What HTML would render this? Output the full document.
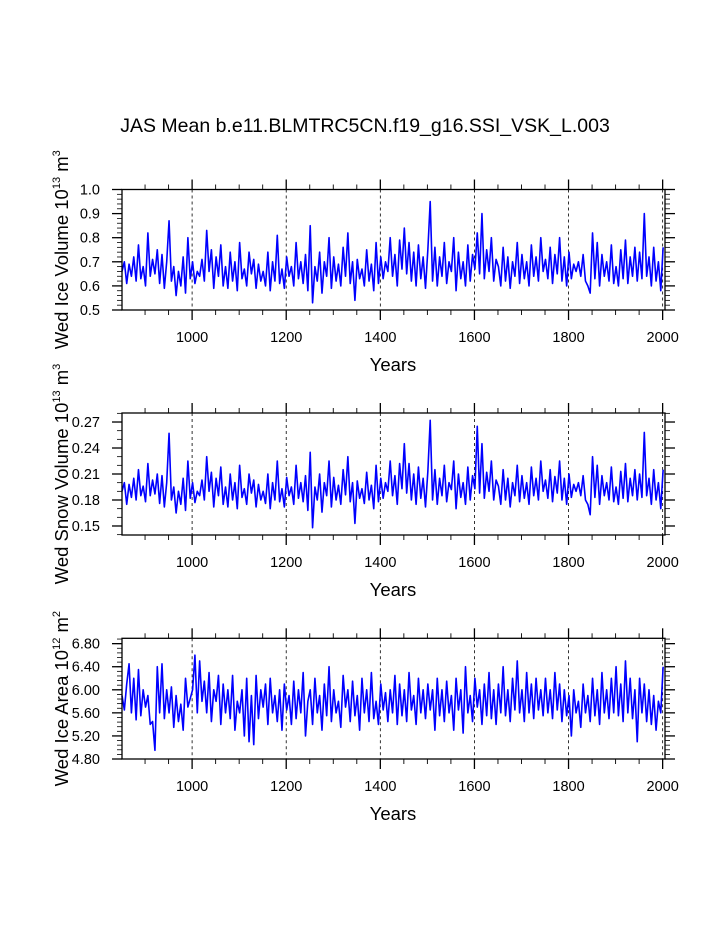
<!DOCTYPE html>
<html><head><meta charset="utf-8"><style>
html,body{margin:0;padding:0;background:#fff}
svg{display:block;font-family:"Liberation Sans",sans-serif}
</style></head><body>
<svg id="chart" width="723" height="935" viewBox="0 0 723 935" xmlns="http://www.w3.org/2000/svg">
<text x="365" y="132" font-size="19.5" text-anchor="middle">JAS Mean b.e11.BLMTRC5CN.f19_g16.SSI_VSK_L.003</text>
</svg>
<script>
const startYear = 851, stepYears = 5;
const iceVolume = [66,70,61,69,64,72,62,77,63,68,60,82,64,71,65,75,61,73,59,70,
87,62,68,56,66,60,72,57,80,63,70,61,66,64,71,62,83,66,75,59,
72,64,77,60,68,59,74,62,70,58,78,63,67,60,74,65,71,59,69,62,
66,60,74,58,70,62,81,61,67,59,72,64,68,60,78,63,70,61,73,58,
85,53,68,62,74,57,70,64,80,59,72,62,69,60,76,64,82,61,70,54,
71,63,67,60,75,62,69,58,78,61,72,63,70,66,80,64,73,60,79,67,
84,65,78,62,74,60,77,63,72,59,75,95,62,76,60,72,64,78,61,70,
66,80,58,74,63,70,60,77,62,73,67,82,65,90,63,75,66,80,62,71,
68,60,76,62,72,59,70,64,78,61,73,63,70,60,77,64,72,62,80,66,
71,63,76,61,73,65,80,62,72,60,74,63,69,66,70,64,73,62,60,57,
82,63,78,60,73,64,70,62,77,61,68,60,75,63,79,61,72,64,76,62,
74,63,90,64,72,60,76,62,70,58,76];
const snowVolume = [190,200,175,198,183,205,180,215,185,196,178,222,185,203,187,210,176,208,172,200,
257,180,195,165,190,175,205,168,225,182,200,177,190,185,203,180,230,190,212,172,
205,185,218,175,195,172,210,180,200,170,220,183,193,175,210,188,203,172,198,180,
190,176,210,170,200,180,225,178,193,172,206,185,195,175,220,182,200,178,208,168,
235,148,195,180,210,166,200,185,225,172,206,180,197,175,215,186,230,178,200,153,
202,182,193,176,212,180,197,170,220,178,205,182,200,190,225,185,208,175,222,193,
245,188,222,180,210,175,218,182,205,172,213,272,180,215,175,205,185,220,178,200,
192,225,170,210,183,200,175,218,180,208,193,265,188,245,182,212,190,225,180,203,
196,175,215,180,205,172,200,185,220,178,208,182,200,175,218,185,205,180,225,190,
203,182,215,178,207,188,225,180,205,175,210,183,198,190,200,185,208,180,175,163,
230,183,220,175,208,185,200,180,218,178,195,175,213,182,222,178,205,185,215,180,
210,183,258,185,205,175,215,180,200,170,215];
const iceArea = [590,565,610,645,560,620,548,635,555,600,570,590,540,545,495,640,560,645,550,600,
560,605,535,590,545,575,530,620,570,585,600,660,560,650,580,615,560,630,545,600,
580,625,540,610,560,600,550,625,530,580,560,600,520,620,510,590,505,625,550,600,
570,610,540,620,560,590,545,600,530,610,565,590,540,615,550,600,560,630,520,580,
600,540,620,560,590,530,610,555,640,545,600,560,580,535,625,570,600,545,615,555,
590,530,620,560,600,545,630,550,580,540,610,565,595,545,600,560,625,540,610,555,
600,545,630,565,590,540,620,560,600,550,610,565,600,530,620,555,600,545,615,560,
590,530,620,565,600,525,640,560,590,545,620,570,600,540,610,555,630,550,600,540,
610,560,640,555,600,545,620,565,650,560,600,545,630,560,610,550,620,565,600,555,
620,560,600,550,630,565,610,545,600,555,590,520,600,560,580,535,610,560,590,545,
620,555,600,540,630,560,600,550,620,560,640,555,610,545,650,560,620,550,600,510,
620,560,610,545,600,540,590,530,580,560,640];
const xTicks = [1000,1200,1400,1600,1800,2000];
const iceVolTicks = ["0.5","0.6","0.7","0.8","0.9","1.0"];
const snowTicks = ["0.15","0.18","0.21","0.24","0.27"];
const areaTicks = ["4.80","5.20","5.60","6.00","6.40","6.80"];

const NS="http://www.w3.org/2000/svg";
const svg=document.getElementById('chart');
const X0=122,X1=665,YR0=851,YR1=2005;
function xs(y){return X0+(y-YR0)*(X1-X0)/(YR1-YR0);}
function mk(tag,attrs,parent){const e=document.createElementNS(NS,tag);for(const k in attrs)e.setAttribute(k,attrs[k]);(parent||svg).appendChild(e);return e;}

const panels=[
 {name:'ice-volume',top:189.5,bot:310,ymin:0.5,ymax:1.0,data:iceVolume,scale:0.01,ticks:iceVolTicks,minor:0.02,label:['Wed Ice Volume 10','13',' m','3']},
 {name:'snow-volume',top:413,bot:535,ymin:0.1396,ymax:0.2804,data:snowVolume,scale:0.001,ticks:snowTicks,minor:0.01,label:['Wed Snow Volume 10','13',' m','3']},
 {name:'ice-area',top:638.3,bot:759,ymin:4.8,ymax:6.893,data:iceArea,scale:0.01,ticks:areaTicks,minor:0.08,label:['Wed Ice Area 10','12',' m','2']}
];
panels.forEach(p=>{
  const g=mk('g',{});
  
  
  const ys=v=>p.bot-(v-p.ymin)*(p.bot-p.top)/(p.ymax-p.ymin);
  xTicks.forEach(t=>{const l=mk('line',{x1:xs(t),x2:xs(t),y1:p.top,y2:p.bot,stroke:'#000','stroke-width':0.8,'stroke-dasharray':'3,3'},g);
    
    });
  let d='';
  p.data.forEach((v,i)=>{d+=(i?'L':'M')+xs(startYear+i*stepYears).toFixed(2)+' '+ys(v*p.scale).toFixed(2);});
  const path=mk('path',{d:d,fill:'none',stroke:'#0000ff','stroke-width':1.6,'stroke-linejoin':'round'},g);
  
  
  const r=mk('rect',{x:X0,y:p.top,width:X1-X0,height:p.bot-p.top,fill:'none',stroke:'#000','stroke-width':1.3},g);
  
  
  for(let yr=900;yr<=2000;yr+=50){
    const major=yr%200===0, L=major?10:5;
    mk('line',{x1:xs(yr),x2:xs(yr),y1:p.bot,y2:p.bot+L,stroke:'#000','stroke-width':major?1.3:0.9},g);
    mk('line',{x1:xs(yr),x2:xs(yr),y1:p.top,y2:p.top-L,stroke:'#000','stroke-width':major?1.3:0.9},g);
  }
  xTicks.forEach(t=>{const tx=mk('text',{x:xs(t),y:p.bot+32,'font-size':14.5,'text-anchor':'middle'},g);tx.textContent=t;
    
    });
  const yt=mk('text',{x:393,y:p.bot+61,'font-size':18.5,'text-anchor':'middle'},g);yt.textContent='Years';
  
  
  for(let v=p.ymin===4.8?4.8:Math.ceil(p.ymin/p.minor-1e-6)*p.minor;v<=p.ymax+1e-9;v+=p.minor){
    const y=ys(v);
    mk('line',{x1:X0,x2:X0-5,y1:y,y2:y,stroke:'#000','stroke-width':0.8},g);
    mk('line',{x1:X1,x2:X1+5,y1:y,y2:y,stroke:'#000','stroke-width':0.8},g);
  }
  p.ticks.forEach(t=>{const y=ys(parseFloat(t));
    mk('line',{x1:X0,x2:X0-10,y1:y,y2:y,stroke:'#000','stroke-width':1.3},g);
    mk('line',{x1:X1,x2:X1+10,y1:y,y2:y,stroke:'#000','stroke-width':1.3},g);
    const tx=mk('text',{x:X0-22,y:y+5,'font-size':14.5,'text-anchor':'end'},g);tx.textContent=t;
    
    });
  const cy=(p.top+p.bot)/2;
  const lab=mk('text',{transform:`translate(68,${cy}) rotate(-90)`,'font-size':18.5,'text-anchor':'middle'},g);
  
  
  const parts=[[p.label[0],0,18.5],[p.label[1],-8,11],[p.label[2],8,18.5],[p.label[3],-8,11]];
  parts.forEach(([s,dy,fs])=>{const ts=mk('tspan',{dy:dy,'font-size':fs},lab);ts.textContent=s;});
});
</script>
</body></html>
